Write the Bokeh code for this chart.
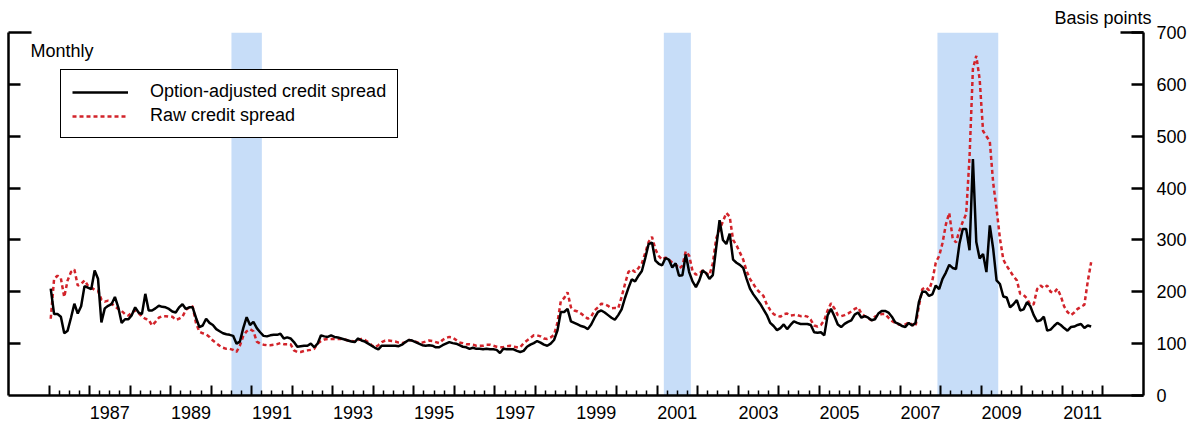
import pandas as pd
from bokeh.plotting import figure
from bokeh.models import (Range1d, LinearAxis, FixedTicker, BoxAnnotation,
                          Legend, LegendItem, Label, Title)
from bokeh.embed import file_html
from bokeh.resources import INLINE

# ---------------- data (basis points, monthly from Jan 1986) ----------------
start_month = "1986-01"
oas = [
    206, 157, 157, 152, 120, 125, 150, 177, 158, 172, 211, 208,  # 1986
    205, 241, 225, 141, 168, 173, 176, 190, 170, 140, 147, 147,  # 1987
    155, 170, 160, 157, 196, 164, 164, 168, 173, 171, 170, 167,  # 1988
    162, 160, 170, 176, 167, 170, 170, 150, 132, 135, 148, 140,  # 1989
    136, 128, 124, 120, 118, 117, 115, 100, 104, 130, 151, 136,  # 1990
    142, 130, 122, 115, 114, 116, 117, 117, 119, 110, 112, 110,  # 1991
    103, 94, 95, 96, 96, 100, 93, 100, 116, 114, 113, 116,       # 1992
    113, 112, 110, 108, 106, 104, 103, 110, 106, 104, 100, 96,   # 1993
    92, 89, 96, 96, 96, 96, 96, 95, 98, 103, 107, 106,           # 1994
    103, 100, 97, 96, 97, 96, 93, 93, 97, 100, 103, 101,         # 1995
    100, 97, 94, 93, 90, 92, 90, 90, 89, 90, 89, 89,             # 1996
    88, 82, 90, 89, 89, 89, 86, 84, 86, 94, 98, 101,             # 1997
    105, 102, 98, 96, 100, 107, 125, 161, 161, 167, 143, 140,    # 1998
    137, 134, 132, 128, 137, 150, 161, 164, 160, 155, 150, 146,  # 1999
    155, 166, 188, 207, 224, 220, 231, 240, 265, 292, 295, 260,  # 2000
    254, 251, 265, 262, 247, 255, 231, 232, 272, 238, 220, 209,  # 2001
    222, 241, 236, 225, 232, 285, 338, 300, 292, 312, 262, 256,  # 2002
    252, 246, 225, 206, 195, 186, 177, 166, 155, 140, 134, 126,  # 2003
    130, 137, 128, 136, 143, 140, 138, 138, 138, 136, 122, 121,  # 2004
    122, 116, 155, 167, 153, 137, 132, 138, 142, 145, 156, 160,  # 2005
    150, 153, 150, 145, 147, 158, 163, 163, 160, 152, 141, 138,  # 2006
    134, 132, 140, 135, 140, 180, 200, 200, 192, 195, 212, 205,  # 2007
    225, 237, 252, 246, 244, 292, 321, 321, 280, 456, 296, 264,  # 2008
    273, 238, 328, 283, 222, 215, 191, 189, 170, 176, 184, 164,  # 2009
    166, 180, 172, 155, 143, 145, 152, 125, 127, 134, 140, 136,  # 2010
    130, 125, 132, 133, 136, 138, 130, 135, 133,                 # 2011
]
raw = [
    148, 225, 231, 226, 190, 222, 238, 243, 212, 215, 222, 212,  # 1986
    208, 204, 202, 185, 181, 183, 177, 172, 167, 163, 157, 154,  # 1987
    160, 164, 159, 152, 148, 146, 135, 142, 150, 153, 153, 152,  # 1988
    152, 146, 148, 152, 165, 170, 172, 140, 123, 120, 118, 113,  # 1989
    106, 101, 96, 92, 90, 90, 88, 84, 96, 115, 124, 128,         # 1990
    124, 104, 100, 98, 97, 97, 98, 99, 101, 99, 99, 99,          # 1991
    87, 84, 84, 86, 87, 88, 90, 100, 105, 108, 109, 109,         # 1992
    109, 109, 109, 108, 106, 105, 104, 107, 109, 107, 103, 97,   # 1993
    93, 97, 103, 106, 106, 105, 104, 102, 101, 103, 107, 106,    # 1994
    104, 101, 102, 104, 106, 105, 103, 101, 107, 111, 113, 112,  # 1995
    107, 102, 101, 99, 99, 98, 96, 96, 96, 98, 98, 96,           # 1996
    94, 93, 93, 95, 96, 94, 93, 93, 101, 106, 111, 116,          # 1997
    116, 114, 110, 109, 112, 117, 140, 182, 188, 199, 170, 164,  # 1998
    162, 158, 153, 148, 152, 164, 170, 177, 176, 173, 168, 169,  # 1999
    168, 190, 215, 238, 243, 238, 246, 255, 275, 296, 306, 282,  # 2000
    269, 262, 266, 262, 256, 253, 245, 250, 278, 270, 240, 233,  # 2001
    235, 241, 236, 232, 255, 303, 320, 336, 352, 345, 300, 290,  # 2002
    276, 262, 240, 225, 215, 205, 198, 192, 175, 165, 157, 154,  # 2003
    152, 157, 158, 154, 155, 155, 153, 154, 152, 146, 135, 133,  # 2004
    136, 145, 164, 178, 168, 155, 153, 155, 158, 162, 167, 170,  # 2005
    158, 153, 149, 145, 152, 155, 157, 157, 150, 144, 140, 137,  # 2006
    136, 137, 141, 137, 133, 172, 205, 209, 203, 222, 256, 269,  # 2007
    294, 330, 352, 303, 295, 318, 335, 350, 460, 630, 655, 610,  # 2008
    510, 500, 490, 410, 360, 303, 262, 250, 240, 230, 222, 196,  # 2009
    194, 187, 175, 176, 205, 212, 207, 212, 200, 198, 206, 192,  # 2010
    172, 161, 155, 160, 167, 171, 175, 220, 257,                 # 2011
]
recession_start = ["1990-07", "2001-03", "2007-12"]
recession_end = ["1991-04", "2001-11", "2009-06"]
label_years = list(range(1987, 2012, 2))
tick_years = list(range(1986, 2013))
y_ticks = [0, 100, 200, 300, 400, 500, 600, 700]
series_labels = ["Option-adjusted credit spread", "Raw credit spread"]


def dec_year(ts, mid=False):
    return ts.year + (ts.month - 1 + (0.5 if mid else 0.0)) / 12.0


dates = pd.date_range(start_month + "-01", periods=len(oas), freq="MS")
x = [dec_year(d, mid=True) for d in dates]

FONT = "Liberation Sans"
FS = "18px"
RED = "#d2232a"
BAND = "#c7ddf8"

p = figure(frame_width=1135, frame_height=363,
           x_range=Range1d(1985, 2013), y_range=Range1d(0, 700),
           x_axis_location=None, y_axis_location=None,
           output_backend="svg", toolbar_location=None,
           min_border_left=8, min_border_top=32, min_border_right=0,
           min_border_bottom=0)
p.outline_line_color = None
p.grid.grid_line_color = None
p.background_fill_color = "white"

# recession bands
for s, e in zip(recession_start, recession_end):
    p.add_layout(BoxAnnotation(left=dec_year(pd.Timestamp(s + "-01")),
                               right=dec_year(pd.Timestamp(e + "-01")),
                               fill_color=BAND, fill_alpha=1.0,
                               line_color=None, level="underlay"))

r_raw = p.line(x, raw, line_color=RED, line_width=2.5, line_dash="4 3")
r_oas = p.line(x, oas, line_color="black", line_width=2.5)

# left axis: ticks only
left = LinearAxis(ticker=FixedTicker(ticks=[700], minor_ticks=y_ticks[1:-1]),
                  major_tick_in=23, major_tick_out=0,
                  minor_tick_in=12, minor_tick_out=0,
                  axis_line_width=2.5, major_tick_line_width=2.5,
                  minor_tick_line_width=2.5,
                  major_label_overrides={700: ""},
                  major_label_text_font_size="0px", major_label_standoff=0)
p.add_layout(left, "left")

# right axis with labels
right = LinearAxis(ticker=FixedTicker(ticks=y_ticks, minor_ticks=[700]),
                   major_tick_in=12, major_tick_out=0,
                   minor_tick_in=23, minor_tick_out=0,
                   axis_line_width=2.5, major_tick_line_width=2.5,
                   minor_tick_line_width=2.5,
                   major_label_standoff=13,
                   major_label_text_font=FONT, major_label_text_font_size=FS,
                   major_label_text_color="black")
p.add_layout(right, "right")

# bottom axis: year and quarter ticks
quarters = [y + q / 4 for y in tick_years[:-1] for q in range(1, 4)]
bt = LinearAxis(ticker=FixedTicker(ticks=tick_years, minor_ticks=quarters),
                major_tick_in=10, major_tick_out=0,
                minor_tick_in=5, minor_tick_out=0,
                axis_line_width=2.5, major_tick_line_width=2,
                minor_tick_line_width=1.5,
                major_label_overrides={t: "" for t in tick_years},
                major_label_text_font_size="0px", major_label_standoff=0)
p.add_layout(bt, "below")

# bottom axis: year labels centred mid-year
label_pos = [y + 0.5 for y in label_years]
bl = LinearAxis(ticker=FixedTicker(ticks=label_pos, minor_ticks=[]),
                axis_line_color=None, major_tick_line_color=None,
                minor_tick_line_color=None,
                major_tick_in=0, major_tick_out=0,
                major_label_overrides={pos: str(y) for pos, y in zip(label_pos, label_years)},
                major_label_standoff=10,
                major_label_text_font=FONT, major_label_text_font_size=FS,
                major_label_text_color="black")
p.add_layout(bl, "below")

legend = Legend(items=[LegendItem(label=series_labels[0], renderers=[r_oas]),
                       LegendItem(label=series_labels[1], renderers=[r_raw])],
                location=(52, 257), padding=11, spacing=3, margin=0,
                glyph_width=56, glyph_height=20, label_height=20,
                label_standoff=22, label_width=230,
                label_text_font=FONT, label_text_font_size=FS,
                label_text_color="black",
                border_line_color="black", border_line_width=1.5,
                border_line_alpha=1.0,
                background_fill_color="white", background_fill_alpha=1.0)
p.add_layout(legend)

p.add_layout(Label(x=1985.54, y=665, text="Monthly", text_baseline="middle",
                   text_font=FONT, text_font_size=FS, text_color="black"))

p.add_layout(Title(text="Basis points", align="right", offset=-8, standoff=10,
                   text_font=FONT, text_font_size=FS, text_font_style="normal",
                   text_color="black"), "above")

open("out.html", "w").write(file_html(p, INLINE))
